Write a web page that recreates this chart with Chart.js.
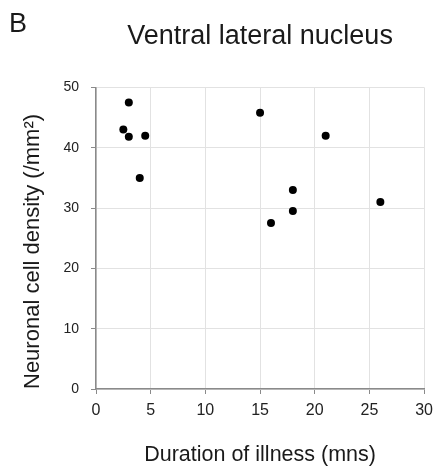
<!DOCTYPE html>
<html>
<head>
<meta charset="utf-8">
<script src="https://cdn.jsdelivr.net/npm/chart.js@4/dist/chart.umd.min.js"></script>
<style>
  body { margin: 0; background: #fff; }
  #wrap { width: 440px; height: 473px; }
</style>
</head>
<body>
<div id="wrap"><canvas id="scatterChart" width="440" height="473"></canvas></div>
<script>
// duration of illness (months) vs neuronal cell density
const durationMonths = [2.5, 3, 3, 4, 4.5, 15, 16, 18, 18, 21, 26];
const cellDensity = [43, 47.5, 41.8, 35, 42, 45.8, 27.5, 33, 29.5, 42, 31];

const xTicks = [0, 5, 10, 15, 20, 25, 30];
const yTicks = [0, 10, 20, 30, 40, 50];

const chartTitle = 'Ventral lateral nucleus';
const panelLabel = 'B';
const xTitle = 'Duration of illness (mns)';
const yTitle = 'Neuronal cell density (/mm\u00B2)';

const fontFamily = '"Liberation Sans", Arial, Helvetica, sans-serif';

// panel letter in the top-left corner
const panelLabelPlugin = {
    id: 'panelLabel',
    afterDraw(chart) {
        const ctx = chart.ctx;
        ctx.save();
        ctx.fillStyle = '#1a1a1a';
        ctx.font = '27px ' + fontFamily;
        ctx.textBaseline = 'alphabetic';
        ctx.fillText(panelLabel, 9, 32);
        ctx.restore();
    }
};

const points = durationMonths.map((x, i) => ({ x: x, y: cellDensity[i] }));

const ctx = document.getElementById('scatterChart').getContext('2d');
const chart = new Chart(ctx, {
    type: 'scatter',
    data: {
        datasets: [{
            data: points,
            backgroundColor: '#000',
            borderColor: '#000',
            pointRadius: 4,
            pointBorderWidth: 0
        }]
    },
    options: {
        responsive: false,
        devicePixelRatio: 1,
        animation: false,
        layout: {
            padding: { left: 0, right: 13, top: 0, bottom: 0 }
        },
        plugins: {
            legend: { display: false },
            tooltip: { enabled: false },
            title: {
                display: true,
                text: chartTitle,
                fullSize: false,
                color: '#1a1a1a',
                font: { family: fontFamily, size: 27, weight: 'normal' },
                padding: { top: 20, bottom: 35 }
            }
        },
        scales: {
            x: {
                type: 'linear',
                min: 0,
                max: 30,
                afterBuildTicks: scale => { scale.ticks = xTicks.map(v => ({ value: v })); },
                afterFit: scale => { scale.height = 84; },
                grid: { color: '#e2e2e2', tickColor: '#8a8a8a', tickLength: 5, lineWidth: 1 },
                border: { color: '#8a8a8a', width: 1.5 },
                ticks: {
                    color: '#222',
                    padding: 7,
                    maxRotation: 0,
                    font: { family: fontFamily, size: 16 }
                },
                title: {
                    display: true,
                    text: xTitle,
                    color: '#1a1a1a',
                    font: { family: fontFamily, size: 21.5 },
                    padding: { top: 0, bottom: 5 }
                }
            },
            y: {
                type: 'linear',
                min: 0,
                max: 50,
                afterBuildTicks: scale => { scale.ticks = yTicks.map(v => ({ value: v })); },
                afterFit: scale => { scale.width = 96; },
                grid: { color: '#e2e2e2', tickColor: '#8a8a8a', tickLength: 5, lineWidth: 1 },
                border: { color: '#8a8a8a', width: 1.5 },
                ticks: {
                    color: '#222',
                    padding: 12,
                    font: { family: fontFamily, size: 14 }
                },
                title: {
                    display: true,
                    text: yTitle,
                    align: 'start',
                    color: '#1a1a1a',
                    font: { family: fontFamily, size: 22 },
                    padding: { top: 20, bottom: 0 }
                }
            }
        }
    },
    plugins: [panelLabelPlugin]
});
</script>
</body>
</html>
